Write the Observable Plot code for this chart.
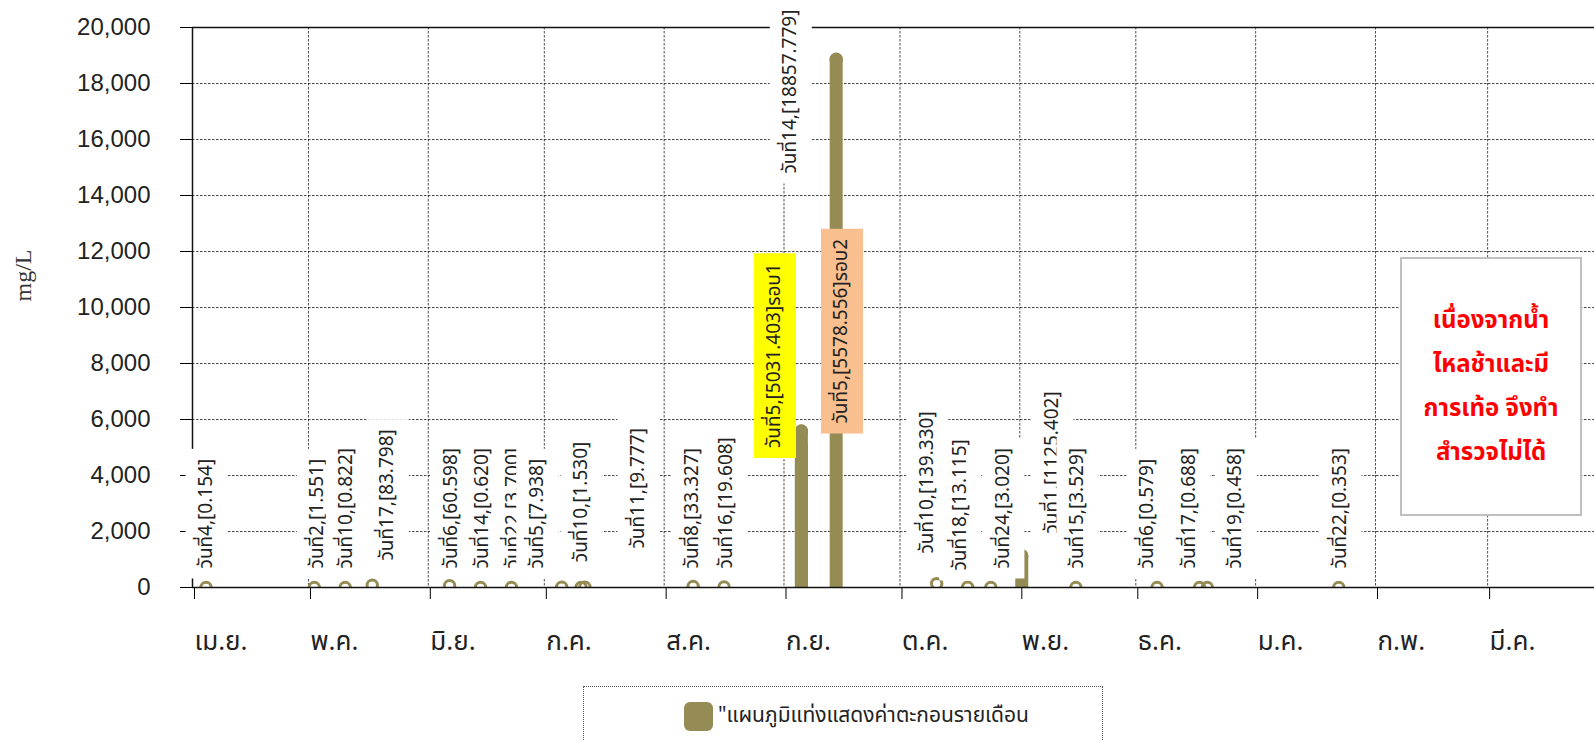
<!DOCTYPE html>
<html>
<head>
<meta charset="utf-8">
<script src="https://cdn.jsdelivr.net/npm/d3@7"></script>
<script src="https://cdn.jsdelivr.net/npm/@observablehq/plot@0.6"></script>
<style>
  html, body { margin: 0; padding: 0; background: #fff; overflow: hidden; }
  #wrap { position: relative; width: 1594px; height: 741px; overflow: hidden; }
  #chart svg { display: block; }
  .thai { font-family: "Noto Sans Thai", "Noto Sans Thai Looped", "Sarabun", "Loma", "Garuda", "Noto Sans", sans-serif; }
  #note {
    position: absolute; left: 1400px; top: 257px; width: 178px; height: 255px;
    border: 2px solid #c0c0c0; background: #fff; box-sizing: content-box;
    color: #ff0000; font-weight: bold; font-size: 24px; line-height: 44px;
    text-align: center; padding-top: 0;
    display: flex; flex-direction: column; justify-content: center;
  }
  #legend {
    position: absolute; left: 583px; top: 686px; width: 518px; height: 80px;
    border: 1px dotted #555; background: #fff;
  }
  #legend .sw { position: absolute; left: 100px; top: 15px; width: 29px; height: 29px; border-radius: 6px; }
  #legend .lt { position: absolute; left: 134px; top: 14px; font-size: 21px; line-height: 30px; color: #222; white-space: nowrap; }
</style>
</head>
<body>
<div id="wrap">
  <div id="chart"></div>
  <div id="note" class="thai"></div>
  <div id="legend" class="thai"><div class="sw"></div><div class="lt"></div></div>
</div>
<script>
// ---------- data ----------
const sampleDates = [
  "2023-04-04", "2023-05-02", "2023-05-10", "2023-05-17", "2023-06-06", "2023-06-14",
  "2023-06-22", "2023-07-05", "2023-07-10", "2023-07-11", "2023-08-08", "2023-08-16",
  "2023-09-05", "2023-09-05", "2023-09-14", "2023-10-10", "2023-10-18", "2023-10-24",
  "2023-11-01", "2023-11-15", "2023-12-06", "2023-12-17", "2023-12-19", "2024-01-22"
];
const sampleValues = [
  0.154, 1.551, 0.822, 83.798, 60.598, 0.620,
  3.700, 7.938, 1.530, 9.777, 33.327, 19.608,
  5031.403, 5578.556, 18857.779, 139.330, 13.115, 3.020,
  1125.402, 3.529, 0.579, 0.688, 0.458, 0.353
];
const sampleLabels = [
  "วันที่4,[0.154]", "วันที่2,[1.551]", "วันที่10,[0.822]", "วันที่17,[83.798]", "วันที่6,[60.598]", "วันที่14,[0.620]",
  "วันที่22,[3.700]", "วันที่5,[7.938]", "วันที่10,[1.530]", "วันที่11,[9.777]", "วันที่8,[33.327]", "วันที่16,[19.608]",
  "วันที่5,[5031.403]รอบ1", "วันที่5,[5578.556]รอบ2", "วันที่14,[18857.779]", "วันที่10,[139.330]", "วันที่18,[13.115]", "วันที่24,[3.020]",
  "วันที่1,[1125.402]", "วันที่15,[3.529]", "วันที่6,[0.579]", "วันที่17,[0.688]", "วันที่19,[0.458]", "วันที่22,[0.353]"
];
const monthTicks = [
  "2023-04-01", "2023-05-01", "2023-06-01", "2023-07-01", "2023-08-01", "2023-09-01",
  "2023-10-01", "2023-11-01", "2023-12-01", "2024-01-01", "2024-02-01", "2024-03-01"
];
const monthNames = ["เม.ย.", "พ.ค.", "มิ.ย.", "ก.ค.", "ส.ค.", "ก.ย.", "ต.ค.", "พ.ย.", "ธ.ค.", "ม.ค.", "ก.พ.", "มี.ค."];
const yTicks = [0, 2000, 4000, 6000, 8000, 10000, 12000, 14000, 16000, 18000, 20000];
const yTitle = "mg/L";
const noteLines = ["เนื่องจากน้ำ", "ไหลช้าและมี", "การเท้อ จึงทำ", "สำรวจไม่ได้"];
const legendLabel = "\"แผนภูมิแท่งแสดงค่าตะกอนรายเดือน";

// ---------- annotation layout (where each data label was dragged to) ----------
const labelNudgeX = [0, 3, 1, 15, 1, 1, 1, -25, 0, 53, -1, 2, -27, 40, -46, -10, -8, 12, 30, 1, -10, -11, 28, 1];
const labelStartY = [680, 680, 680, 964, 680, 680, 680, 680, 904, 1393, 680, 680, 4982, 5857, 14786, 1214, 607, 680, 1929, 680, 680, 680, 680, 680];

// ---------- styles ----------
const olive = "#958b54";
const boxFillFor = (label) => label.endsWith("รอบ1") ? "#ffff00" : label.endsWith("รอบ2") ? "#f9bf8f" : "#ffffff";
const thaiFont = "'Noto Sans Thai', 'Noto Sans Thai Looped', Sarabun, Loma, Garuda, 'Noto Sans', sans-serif";

const parse = (s) => new Date(s + "T00:00:00");
const rows = sampleDates.map((d, i) => ({
  date: d3.timeHour.offset(parse(d), 12),   // Excel centres a point in the middle of its day
  value: sampleValues[i],
  label: sampleLabels[i],
  nudge: labelNudgeX[i],
  ly: labelStartY[i]
}));
const ticks = monthTicks.map(parse);
const tickName = new Map(ticks.map((t, i) => [+t, monthNames[i]]));
const x0 = parse("2023-04-01"), x1 = parse("2024-04-01");
const pxPerDay = 3.866;

const labelMarks = rows.map(r => Plot.text([r], {
  x: "date", y: "ly", text: "label", rotate: -90,
  textAnchor: "start", lineAnchor: "middle",
  dx: r.nudge, fontSize: 19, fill: "#222", fontFamily: thaiFont
}));

const plot = Plot.plot({
  width: 1594, height: 681,
  marginLeft: 192, marginRight: 0, marginTop: 27, marginBottom: 94,
  style: { background: "transparent", fontFamily: "'Liberation Sans', Arial, sans-serif" },
  x: { type: "time", domain: [x0, x1], range: [192, 192 + 366 * pxPerDay] },
  y: { domain: [0, 20000] },
  marks: [
    // gridlines
    Plot.ruleY(yTicks.filter(v => v > 0 && v < 20000), { stroke: "#000", strokeOpacity: 0.7, strokeWidth: 1, strokeDasharray: "2.5,1.5" }),
    Plot.ruleX(ticks.slice(1), { stroke: "#000", strokeOpacity: 0.7, strokeWidth: 1, strokeDasharray: "2.5,1.5" }),
    Plot.ruleY([20000], { stroke: "#111", strokeWidth: 1.3 }),
    // axes
    Plot.axisY({ ticks: yTicks, tickSize: 12, tickPadding: 30, tickFormat: d3.format(","), fontSize: 24, fill: "#222", label: null }),
    Plot.axisX({ ticks: ticks, tickSize: 12, tickPadding: 32, tickFormat: d => tickName.get(+d), fontSize: 26, fill: "#222",
                 textAnchor: "start", dx: 2, fontFamily: thaiFont, label: null }),
    Plot.text([yTitle], { frameAnchor: "left", rotate: -90, dx: -169, dy: -6, fontSize: 24, fill: "#333",
                          fontFamily: "'Liberation Serif', 'DejaVu Serif', serif" }),
    // values
    Plot.dot(rows, { x: "date", y: "value", r: 5.2, stroke: olive, strokeWidth: 3, fill: "none", clip: true }),
    Plot.ruleX(rows.filter(d => d.value >= 1000), { x: "date", y1: 0, y2: "value", stroke: olive, strokeWidth: 13, strokeLinecap: "round", clip: true }),
    // axis lines
    Plot.ruleX([x0], { stroke: "#111", strokeWidth: 1.5 }),
    Plot.ruleY([0], { stroke: "#111", strokeWidth: 1.5 }),
    // data labels (each with its own box, drawn in order)
    ...labelMarks
  ]
});

document.getElementById("chart").appendChild(plot);

// give each data label its box, like the spreadsheet's label fill
const labelSet = new Set(sampleLabels);
d3.select(plot).selectAll("text").filter(function () { return labelSet.has(this.textContent); }).each(function () {
  const bb = this.getBBox();
  const label = this.textContent;
  const rect = document.createElementNS("http://www.w3.org/2000/svg", "rect");
  rect.setAttribute("x", bb.x - 10);
  rect.setAttribute("width", bb.width + 20);
  rect.setAttribute("y", bb.y + bb.height / 2 - 21);
  rect.setAttribute("height", 42);
  rect.setAttribute("fill", boxFillFor(label));
  rect.setAttribute("stroke", "none");
  const tr = this.getAttribute("transform");
  if (tr) rect.setAttribute("transform", tr);
  this.parentNode.insertBefore(rect, this);
});

// note box + legend
const note = document.getElementById("note");
noteLines.forEach(t => { const d = document.createElement("div"); d.textContent = t; note.appendChild(d); });
document.querySelector("#legend .sw").style.background = olive;
document.querySelector("#legend .lt").textContent = legendLabel;
</script>
</body>
</html>
